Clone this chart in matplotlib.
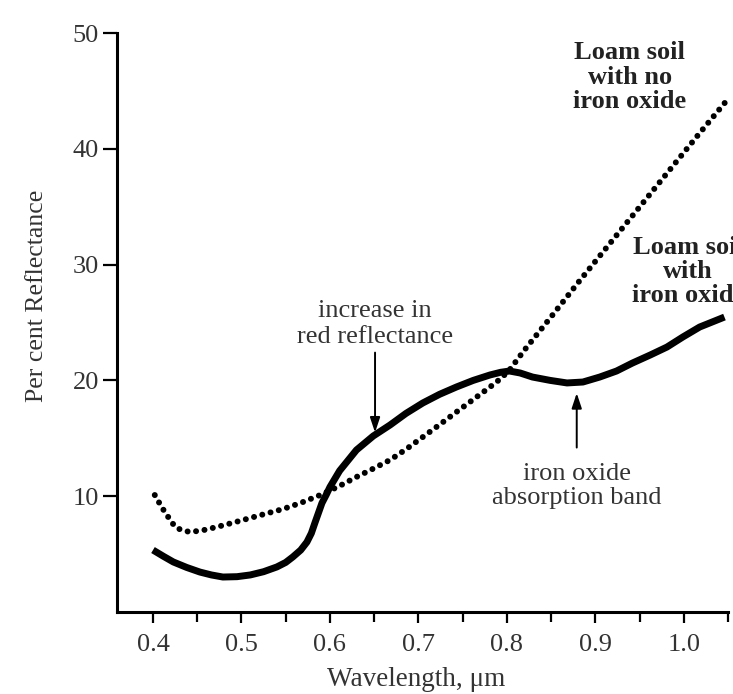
import matplotlib
matplotlib.use("Agg")
import matplotlib.pyplot as plt
from matplotlib.ticker import FixedLocator

plt.rcParams['font.family'] = ['Liberation Serif', 'DejaVu Serif']

# Loam soil with iron oxide (solid)
wl_iron = [0.400, 0.412, 0.423, 0.438, 0.453, 0.466, 0.479, 0.495, 0.510, 0.525,
           0.540, 0.550, 0.558, 0.567, 0.574, 0.579, 0.583, 0.587, 0.591, 0.596,
           0.600, 0.611, 0.630, 0.649, 0.668, 0.686, 0.705, 0.724, 0.743, 0.762,
           0.781, 0.793, 0.803, 0.815, 0.829, 0.849, 0.868, 0.886, 0.905, 0.924,
           0.942, 0.962, 0.981, 0.999, 1.018, 1.032, 1.046]
refl_iron = [5.35, 4.80, 4.32, 3.85, 3.45, 3.20, 3.02, 3.05, 3.20, 3.48,
             3.89, 4.28, 4.75, 5.35, 6.04, 6.80, 7.69, 8.55, 9.41, 10.15,
             10.79, 12.20, 13.99, 15.20, 16.15, 17.15, 18.05, 18.80, 19.43, 20.00,
             20.47, 20.70, 20.81, 20.64, 20.29, 20.00, 19.78, 19.86, 20.29, 20.81,
             21.50, 22.19, 22.88, 23.75, 24.61, 25.04, 25.47]

# Loam soil with no iron oxide (dotted)
wl_noiron = [0.402, 0.408, 0.414, 0.420, 0.425, 0.433, 0.442, 0.456, 0.472, 0.491,
             0.510, 0.528, 0.547, 0.568, 0.589, 0.610, 0.630, 0.649, 0.668, 0.686,
             0.705, 0.724, 0.743, 0.762, 0.781, 0.793, 0.803, 0.820, 0.849, 0.882,
             0.916, 0.950, 0.984, 1.018, 1.049]
refl_noiron = [10.10, 9.30, 8.55, 7.90, 7.34, 7.05, 6.91, 7.05, 7.34, 7.72,
               8.12, 8.50, 8.89, 9.45, 10.10, 10.85, 11.66, 12.38, 13.13, 14.05,
               15.11, 16.18, 17.27, 18.35, 19.43, 20.15, 20.90, 22.63, 25.39, 28.58,
               31.78, 34.97, 38.17, 41.36, 44.21]

xticks = [0.4, 0.5, 0.6, 0.7, 0.8, 0.9, 1.0]
xticklabels = ['0.4', '0.5', '0.6', '0.7', '0.8', '0.9', '1.0']
xminor = [0.45, 0.55, 0.65, 0.75, 0.85, 0.95, 1.05]
yticks = [10, 20, 30, 40, 50]

fig = plt.figure(figsize=(7.33, 6.94), dpi=100)
ax = fig.add_axes([117/733, 82/694, 611/733, 579/694])

ax.plot(wl_iron, refl_iron, color='black', lw=5.0, solid_capstyle='butt',
        solid_joinstyle='round', zorder=3)
ax.plot(wl_noiron, refl_noiron, color='black', lw=4.3, linestyle=(0, (0.01, 1.42)),
        dash_capstyle='round', zorder=2)

ax.set_xlim(0.3593, 1.05)
ax.set_ylim(0, 50)

ax.spines['top'].set_visible(False)
ax.spines['right'].set_visible(False)
for s in ('left', 'bottom'):
    ax.spines[s].set_linewidth(2.2)
    ax.spines[s].set_capstyle('projecting')

ax.xaxis.set_major_locator(FixedLocator(xticks))
ax.set_xticklabels(xticklabels)
ax.xaxis.set_minor_locator(FixedLocator(xminor))
ax.yaxis.set_major_locator(FixedLocator(yticks))

tc = '#333333'
ax.tick_params(axis='x', which='major', direction='out', length=8, width=1.6,
               labelsize=19, pad=8, labelcolor=tc)
ax.tick_params(axis='x', which='minor', direction='out', length=7, width=1.6)
ax.tick_params(axis='y', which='major', direction='out', length=10, width=1.6,
               labelsize=19, pad=3, labelcolor=tc)

ax.set_xlabel('Wavelength, μm', fontsize=19.5, color=tc)
ax.xaxis.set_label_coords(0.489, -0.117)
ax.xaxis.label.set_va('center')
ax.set_ylabel('Per cent Reflectance', fontsize=18.5, color=tc)
ax.yaxis.set_label_coords(-0.131, 0.546)
ax.yaxis.label.set_va('center')

ax.text(0.939, 46.2, 'Loam soil\nwith no\niron oxide', ha='center', va='center',
        fontsize=19, fontweight='bold', color='#222222', linespacing=1.1, clip_on=False)
ax.text(1.005, 29.4, 'Loam soil\nwith\niron oxide', ha='center', va='center',
        fontsize=19, fontweight='bold', color='#222222', linespacing=1.05, clip_on=False)

ax.text(0.651, 24.9, 'increase in\nred reflectance', ha='center', va='center',
        fontsize=19, color=tc, linespacing=1.22)
ax.annotate('', xy=(0.651, 15.5), xytext=(0.651, 22.4),
            arrowprops=dict(arrowstyle='-|>,head_length=0.9,head_width=0.3',
                            lw=1.4, color='black', shrinkA=0, shrinkB=0))

ax.text(0.879, 10.9, 'iron oxide\nabsorption band', ha='center', va='center',
        fontsize=19, color=tc, linespacing=1.1)
ax.annotate('', xy=(0.879, 18.9), xytext=(0.879, 14.2),
            arrowprops=dict(arrowstyle='-|>,head_length=0.9,head_width=0.3',
                            lw=1.4, color='black', shrinkA=0, shrinkB=0))

fig.savefig('out.png', dpi=100)
